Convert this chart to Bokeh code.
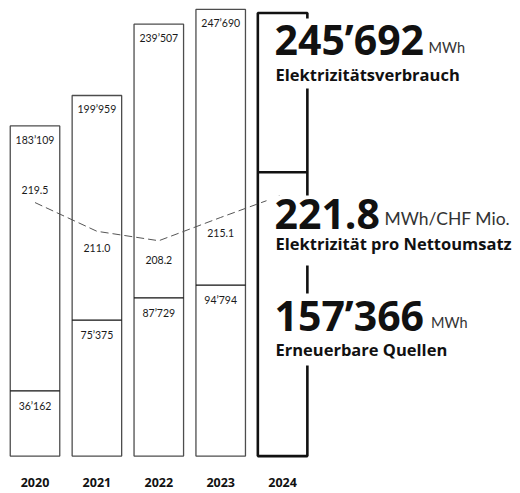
from bokeh.plotting import figure
from bokeh.models import Range1d, ColumnDataSource, LabelSet, Label, BoxAnnotation
from bokeh.core.properties import value
from bokeh.embed import file_html
from bokeh.resources import INLINE

# ---- data ----
years = [2020, 2021, 2022, 2023, 2024]
year_labels = ["2020", "2021", "2022", "2023", "2024"]
consumption = [183109, 199959, 239507, 247690, 245692]      # MWh
renewables = [36162, 75375, 87729, 94794, 157366]           # MWh
intensity = [219.5, 211.0, 208.2, 215.1, 221.8]             # MWh/CHF Mio.

title_consumption = "Elektrizitätsverbrauch"
title_intensity = "Elektrizität pro Nettoumsatz"
title_renewables = "Erneuerbare Quellen"
unit_mwh = "MWh"
unit_int = "MWh/CHF Mio."


def fmt(v):
    return f"{v:,}".replace(",", "’")


REG = "Lato"
BOLD = "Open Sans"
W, H = 520, 493

p = figure(width=W, height=H, output_backend="svg", toolbar_location=None,
           x_range=Range1d(2019.4426, 2027.8432), y_range=Range1d(-20739, 252634),
           min_border=0, outline_line_color=None,
           x_axis_type=None, y_axis_type=None)
p.extra_y_ranges = {"int": Range1d(133.35, 279.34)}
p.background_fill_color = "white"
p.border_fill_color = "white"

hist = slice(0, 4)
bw = 0.8

# past years bars
p.vbar(x=years[hist], top=consumption[hist], bottom=0, width=bw,
       fill_color="white", line_color="#4d4d4d", line_width=1.3)
# current year bar
p.vbar(x=years[4:], top=consumption[4:], bottom=0, width=bw,
       fill_color="white", line_color="#111111", line_width=2.6)

# renewable share lines
p.segment(x0=[y - bw / 2 for y in years[hist]], x1=[y + bw / 2 for y in years[hist]],
          y0=renewables[hist], y1=renewables[hist], line_color="#111111", line_width=1.3)
p.segment(x0=[y - bw / 2 for y in years[4:]], x1=[y + bw / 2 for y in years[4:]],
          y0=renewables[4:], y1=renewables[4:], line_color="#111111", line_width=2.6)

# intensity dashed line
p.line(years, intensity, y_range_name="int", line_dash="8 4",
       line_color="#555555", line_width=1)

src = ColumnDataSource(dict(
    x=years[hist],
    top=consumption[hist],
    ren=renewables[hist],
    inten=intensity[hist],
    top_txt=[fmt(v) for v in consumption[hist]],
    ren_txt=[fmt(v) for v in renewables[hist]],
    int_txt=[f"{v:.1f}" for v in intensity[hist]],
    int_dy=[13, -17, -19, -16],
))

common = dict(source=src, text_align="center", text_baseline="middle",
              text_font=value(REG), text_font_size="10.5px", text_color="#1a1a1a")
p.add_layout(LabelSet(x="x", y="top", text="top_txt", y_offset=-14, **common))
p.add_layout(LabelSet(x="x", y="ren", text="ren_txt", y_offset=-15, **common))
p.add_layout(LabelSet(x="x", y="inten", text="int_txt", y_offset="int_dy",
                      y_range_name="int", **common))

ysrc = ColumnDataSource(dict(x=years, y=[0] * len(years), t=year_labels))
p.add_layout(LabelSet(x="x", y="y", text="t", source=ysrc, y_offset=-26.4,
                      text_align="center", text_baseline="middle", text_font=value(BOLD),
                      text_font_size="12.5px", text_font_style="bold", text_color="#111111"))

# white boxes behind the key figures (canvas px from top)
for top, bottom in [(18, 88), (195, 265), (293, 365)]:
    p.add_layout(BoxAnnotation(left=266, right=W, top=H - top, bottom=H - bottom,
                               left_units="screen", right_units="screen",
                               top_units="screen", bottom_units="screen",
                               fill_color="white", fill_alpha=1, line_color=None,
                               level="annotation"))


def label(x, y, text, size, font, bold=False, color="#111111"):
    # y: vertical centre of the text, canvas px from top
    p.add_layout(Label(x=x, y=H - y, x_units="screen", y_units="screen", text=text,
                       text_font=font, text_font_size=size,
                       text_font_style="bold" if bold else "normal",
                       text_baseline="middle", text_align="left", text_color=color))


label(274, 38.6, fmt(consumption[-1]), "41px", BOLD, True)
label(428, 47.4, unit_mwh, "14.5px", REG, False, "#333333")
label(275, 74.2, title_consumption, "16.5px", BOLD, True)

label(274, 213.4, f"{intensity[-1]:.1f}", "41px", BOLD, True)
label(384, 218.3, unit_int, "17.5px", REG, False, "#333333")
label(275, 242.8, title_intensity, "16.5px", BOLD, True)

label(274, 314.4, fmt(renewables[-1]), "41px", BOLD, True)
label(430.5, 322.4, unit_mwh, "14.5px", REG, False, "#333333")
label(275, 349.2, title_renewables, "16.5px", BOLD, True)

open("out.html", "w").write(file_html(p, INLINE))
